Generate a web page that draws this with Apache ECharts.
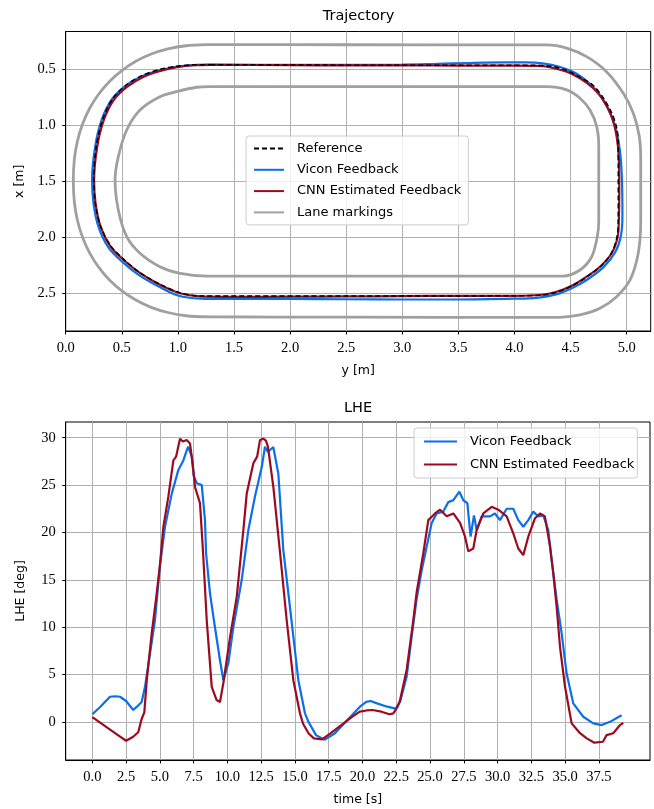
<!DOCTYPE html>
<html><head><meta charset="utf-8">
<script src="https://cdn.jsdelivr.net/npm/echarts@6/dist/echarts.min.js"></script>
<style>html,body{margin:0;padding:0;background:#fff}#c{width:654px;height:809px}</style>
</head><body><div id="c"></div>
<script>
// ---------- Trajectory data: [y, x] in metres ----------
const laneOuter = [[1.26,0.283],[2.5,0.284],[4.29,0.286],[4.465,0.315],[4.643,0.39],[4.82,0.524],[4.97,0.717],[5.059,0.895],[5.112,1.10],[5.125,1.3],[5.125,1.85],[5.103,2.143],[5.03,2.381],[4.91,2.53],[4.762,2.634],[4.584,2.693],[4.406,2.714],[4.3,2.715],[2.5,2.713],[1.26,2.709],[1.073,2.700],[0.911,2.671],[0.762,2.625],[0.625,2.560],[0.501,2.479],[0.390,2.381],[0.295,2.269],[0.214,2.142],[0.151,2.003],[0.105,1.851],[0.077,1.686],[0.068,1.496],[0.077,1.306],[0.105,1.141],[0.151,0.989],[0.214,0.850],[0.295,0.723],[0.390,0.611],[0.501,0.514],[0.625,0.432],[0.762,0.367],[0.911,0.321],[1.073,0.293],[1.26,0.283]];
const laneInner = [[1.286,0.658],[2.5,0.658],[4.287,0.658],[4.465,0.687],[4.584,0.761],[4.673,0.866],[4.733,1.014],[4.751,1.193],[4.751,1.5],[4.751,1.85],[4.738,1.995],[4.688,2.174],[4.584,2.292],[4.435,2.346],[4.3,2.346],[2.5,2.346],[1.257,2.346],[1.019,2.322],[0.84,2.263],[0.662,2.143],[0.544,1.995],[0.469,1.757],[0.44,1.49],[0.469,1.282],[0.544,1.044],[0.662,0.866],[0.84,0.747],[0.989,0.702],[1.168,0.663],[1.286,0.658]];
const refPath = [[1.29,0.462],[2.5,0.466],[4.2,0.468],[4.35,0.48],[4.47,0.515],[4.58,0.57],[4.70,0.645],[4.80,0.77],[4.87,0.90],[4.91,1.02],[4.925,1.15],[4.925,1.85],[4.915,1.99],[4.87,2.13],[4.78,2.25],[4.65,2.35],[4.52,2.43],[4.38,2.49],[4.22,2.518],[4.0,2.522],[2.5,2.525],[1.2,2.525],[1.02,2.495],[0.84,2.42],[0.66,2.315],[0.515,2.195],[0.40,2.075],[0.31,1.90],[0.264,1.70],[0.25,1.49],[0.272,1.19],[0.33,0.948],[0.418,0.766],[0.537,0.645],[0.686,0.556],[0.835,0.505],[0.985,0.476],[1.137,0.463],[1.29,0.462]];
const viconPath = [[1.29,0.462],[2.0,0.464],[2.5,0.464],[3.0,0.46],[3.3,0.455],[3.6,0.447],[3.9,0.442],[4.1,0.442],[4.25,0.45],[4.40,0.48],[4.55,0.54],[4.68,0.64],[4.78,0.76],[4.86,0.91],[4.915,1.08],[4.945,1.28],[4.958,1.5],[4.962,1.8],[4.95,1.98],[4.90,2.13],[4.80,2.26],[4.66,2.37],[4.52,2.45],[4.37,2.51],[4.2,2.54],[4.0,2.548],[3.5,2.555],[3.0,2.555],[2.5,2.553],[2.0,2.55],[1.5,2.55],[1.2,2.547],[1.0,2.52],[0.83,2.44],[0.65,2.335],[0.50,2.215],[0.38,2.09],[0.293,1.91],[0.248,1.70],[0.235,1.49],[0.263,1.19],[0.322,0.95],[0.412,0.77],[0.533,0.65],[0.685,0.563],[0.835,0.513],[0.985,0.482],[1.137,0.465],[1.29,0.462]];
const cnnPath = [[1.29,0.463],[2.0,0.466],[2.5,0.468],[3.0,0.468],[3.5,0.47],[4.0,0.47],[4.2,0.472],[4.29,0.48],[4.465,0.524],[4.584,0.583],[4.702,0.672],[4.79,0.776],[4.866,0.925],[4.91,1.10],[4.93,1.30],[4.934,1.6],[4.93,1.85],[4.92,1.995],[4.866,2.143],[4.762,2.263],[4.643,2.352],[4.524,2.426],[4.376,2.486],[4.227,2.515],[4.0,2.522],[3.5,2.522],[3.0,2.525],[2.5,2.528],[2.0,2.53],[1.5,2.532],[1.197,2.528],[1.019,2.50],[0.845,2.426],[0.667,2.322],[0.518,2.203],[0.4,2.084],[0.311,1.906],[0.266,1.697],[0.253,1.49],[0.281,1.193],[0.34,0.955],[0.429,0.776],[0.549,0.658],[0.695,0.569],[0.843,0.518],[0.99,0.485],[1.137,0.467],[1.29,0.463]];
const trajYTicks = [0,0.5,1,1.5,2,2.5,3,3.5,4,4.5,5];
const trajXTicks = [0.5,1,1.5,2,2.5];

// ---------- LHE data ----------
const viconTime = [0.0,0.3,0.6,1.0,1.31,1.7,2.05,2.5,3.03,3.3,3.65,3.9,4.27,4.64,5.0,5.38,5.88,6.37,6.74,6.95,7.1,7.36,7.5,7.73,8.1,8.34,8.42,8.71,8.96,9.45,9.7,10.07,10.44,11.06,11.55,12.04,12.54,12.78,13.0,13.15,13.4,13.77,14.14,14.51,14.88,15.25,15.74,16.0,16.56,17.18,17.96,18.88,19.81,20.28,20.6,21.07,21.83,22.45,22.78,23.27,23.64,24.0,24.38,24.75,25.12,25.49,25.98,26.35,26.72,27.17,27.46,27.76,28.0,28.25,28.45,28.82,29.44,29.8,30.18,30.67,31.16,31.53,31.9,32.27,32.64,33.0,33.38,33.75,34.0,34.37,34.74,35.11,35.6,36.34,37.08,37.7,38.32,39.18];
const viconLHE = [0.8,1.2,1.6,2.2,2.65,2.7,2.65,2.2,1.25,1.6,2.1,3.7,7.2,10.75,16.4,20.6,24.1,26.6,27.6,28.5,29.05,28.0,26.0,25.2,25.0,21.3,17.8,13.6,11.1,6.5,4.4,6.2,10.0,15.0,20.25,23.8,26.9,29.05,28.5,28.7,29.0,26.2,18.1,13.6,9.0,4.4,0.9,0.0,-1.4,-1.9,-1.2,0.2,1.6,2.1,2.2,1.95,1.6,1.4,2.1,4.8,9.0,12.9,16.0,18.5,21.0,22.0,22.2,23.2,23.4,24.3,23.4,23.1,19.55,21.8,20.25,21.7,21.7,22.0,21.3,22.5,22.5,21.3,20.6,21.3,22.2,21.7,21.8,20.25,17.1,12.9,9.35,5.1,1.95,0.54,-0.16,-0.34,0.0,0.7];
const cnnTime = [0.0,0.5,1.0,1.5,2.0,2.5,3.0,3.4,3.65,3.85,4.03,4.4,4.77,5.0,5.26,5.63,6.0,6.2,6.49,6.7,6.99,7.23,7.45,7.6,7.97,8.2,8.47,8.84,9.2,9.45,9.7,10.2,10.69,11.18,11.43,11.92,12.2,12.41,12.66,12.85,13.0,13.4,13.9,14.39,14.88,15.37,15.6,16.0,16.4,17.0,17.65,18.57,19.2,19.8,20.3,20.74,21.4,22.0,22.28,22.6,22.78,23.27,23.76,24.0,24.5,24.87,25.37,25.74,26.23,26.72,27.22,27.59,27.83,28.2,28.45,28.94,29.56,30.05,30.67,31.16,31.53,31.9,32.27,32.77,33.14,33.5,33.88,34.12,34.37,34.62,34.99,35.48,36.1,36.6,37.16,37.8,38.07,38.56,39.06,39.3];
const cnnLHE = [0.5,0.0,-0.5,-1.0,-1.5,-2.0,-1.6,-1.1,0.3,1.0,4.4,9.4,13.6,16.5,20.6,23.8,27.6,28.0,29.9,29.6,29.75,29.4,27.0,24.8,23.1,17.8,10.7,3.7,2.3,2.1,4.1,9.0,13.2,20.25,24.1,27.3,28.0,29.75,29.9,29.7,29.05,24.8,17.8,10.7,4.4,0.9,-0.2,-1.2,-1.75,-1.85,-1.2,-0.2,0.5,1.07,1.2,1.25,1.07,0.8,0.9,1.6,2.3,5.5,10.75,13.6,17.8,21.3,22.0,22.4,21.7,22.0,21.0,19.55,18.0,18.3,20.25,22.0,22.7,22.4,21.7,19.9,18.3,17.6,19.55,21.5,22.0,21.7,18.5,15.7,12.15,7.9,3.7,-0.16,-1.2,-1.75,-2.2,-2.1,-1.4,-1.2,-0.34,-0.1];
const timeTicks = [0,2.5,5,7.5,10,12.5,15,17.5,20,22.5,25,27.5,30,32.5,35,37.5];
const lheTicks = [0,5,10,15,20,25,30];

const BLUE = '#0a6fe8', RED = '#9c0a1f', GRAY = '#a0a0a0';
const SANS = 'DejaVu Sans', SERIF = 'Liberation Serif';

function axis(opts) {
  const ticks = opts.ticks, fmt = opts.fmt;
  return Object.assign({
    type: 'value',
    nameLocation: 'middle',
    nameTextStyle: {fontFamily: SANS, fontSize: 12.5, color: '#000'},
    axisLine: {show: true, onZero: false, lineStyle: {color: '#000', width: 1}},
    axisTick: {show: true, customValues: ticks, length: 3.5, inside: false, lineStyle: {color: '#000', width: 1}},
    axisLabel: {customValues: ticks, formatter: fmt, fontFamily: SERIF, fontSize: 14.5, color: '#000', margin: 10},
    splitLine: {show: true, lineStyle: {color: '#b0b0b0', width: 1}}
  }, opts.extra);
}
const f1 = v => Number(v).toFixed(1);
const f0 = v => String(Math.round(v));

const legendBase = {
  orient: 'vertical', itemWidth: 30, itemHeight: 14, itemGap: 8.3,
  itemStyle: {opacity: 0},
  backgroundColor: 'rgba(255,255,255,0.8)', borderColor: '#cccccc', borderWidth: 1, borderRadius: 3,
  textStyle: {fontFamily: SANS, fontSize: 13, color: '#000', padding: [0, 0, 0, 8]}
};

const chart = echarts.init(document.getElementById('c'), null, {renderer: 'canvas'});
chart.setOption({
  animation: false,
  backgroundColor: '#fff',
  graphic: [
    {type: 'text', x: 358.5, y: 16.5, style: {text: 'Trajectory', font: '14.5px "DejaVu Sans"', fill: '#000', textAlign: 'center', textVerticalAlign: 'middle'}},
    {type: 'text', x: 358, y: 408, style: {text: 'LHE', font: '14.5px "DejaVu Sans"', fill: '#000', textAlign: 'center', textVerticalAlign: 'middle'}}
  ],
  grid: [
    {left: 65.7, right: 3.3, top: 31.5, bottom: 478, show: true, borderColor: '#000', borderWidth: 1, backgroundColor: 'transparent', outerBoundsMode: 'none', containLabel: false},
    {left: 65.7, right: 4, top: 422, bottom: 49, show: true, borderColor: '#000', borderWidth: 1, backgroundColor: 'transparent', outerBoundsMode: 'none', containLabel: false}
  ],
  xAxis: [
    axis({ticks: trajYTicks, fmt: f1, extra: {gridIndex: 0, min: 0, max: 5.214, name: 'y [m]', nameGap: 33}}),
    axis({ticks: timeTicks, fmt: f1, extra: {gridIndex: 1, min: -1.97, max: 41.28, name: 'time [s]', nameGap: 33}})
  ],
  yAxis: [
    axis({ticks: trajXTicks, fmt: f1, extra: {gridIndex: 0, min: 0.166, max: 2.836, inverse: true, name: 'x [m]', nameGap: 36}}),
    axis({ticks: lheTicks, fmt: f0, extra: {gridIndex: 1, min: -4.03, max: 31.66, name: 'LHE [deg]', nameGap: 38}})
  ],
  legend: [
    Object.assign({}, legendBase, {left: 246, top: 136, padding: [6, 7],
      data: ['Reference', 'Vicon Feedback', 'CNN Estimated Feedback', 'Lane markings']}),
    Object.assign({}, legendBase, {left: 414, top: 428, padding: [7, 3, 7, 9], itemWidth: 33, itemGap: 10,
      data: ['Vicon Feedback', 'CNN Estimated Feedback']})
  ],
  series: [
    {name: 'Lane markings', type: 'line', xAxisIndex: 0, yAxisIndex: 0, data: laneOuter, symbol: 'none', smooth: 0.3, lineStyle: {color: GRAY, width: 2.8}, itemStyle: {color: GRAY}},
    {name: 'Lane markings', type: 'line', xAxisIndex: 0, yAxisIndex: 0, data: laneInner, symbol: 'none', smooth: 0.3, lineStyle: {color: GRAY, width: 2.8}, itemStyle: {color: GRAY}},
    {name: 'Vicon Feedback', type: 'line', xAxisIndex: 0, yAxisIndex: 0, data: viconPath, symbol: 'none', smooth: 0.3, lineStyle: {color: BLUE, width: 2.2}, itemStyle: {color: BLUE}},
    {name: 'CNN Estimated Feedback', type: 'line', xAxisIndex: 0, yAxisIndex: 0, data: cnnPath, symbol: 'none', smooth: 0.3, lineStyle: {color: RED, width: 2.2}, itemStyle: {color: RED}},
    {name: 'Reference', type: 'line', xAxisIndex: 0, yAxisIndex: 0, data: refPath, symbol: 'none', smooth: 0.3, lineStyle: {color: '#000', width: 1.5, type: [5, 3]}, itemStyle: {color: '#000'}},
    {name: 'Vicon Feedback', type: 'line', xAxisIndex: 1, yAxisIndex: 1, data: viconTime.map((t, i) => [t, viconLHE[i]]), symbol: 'none', lineStyle: {color: BLUE, width: 2.2}, itemStyle: {color: BLUE}},
    {name: 'CNN Estimated Feedback', type: 'line', xAxisIndex: 1, yAxisIndex: 1, data: cnnTime.map((t, i) => [t, cnnLHE[i]]), symbol: 'none', lineStyle: {color: RED, width: 2.2}, itemStyle: {color: RED}}
  ]
});
</script></body></html>
